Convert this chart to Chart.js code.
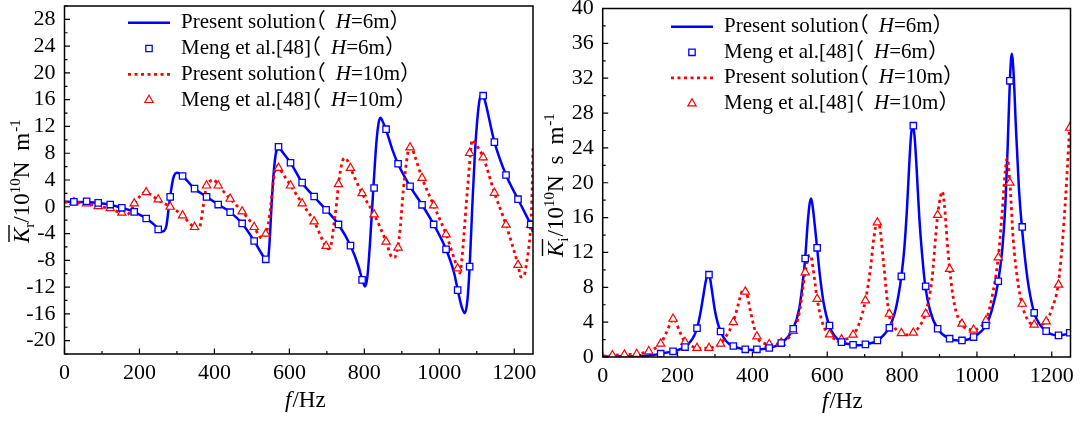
<!DOCTYPE html>
<html><head><meta charset="utf-8">
<script src="https://cdn.jsdelivr.net/npm/chart.js@4.4.1/dist/chart.umd.min.js"></script>
<style>
html,body{margin:0;padding:0;background:#fff;}
#wrap{position:relative;width:1080px;height:421px;overflow:hidden;}
.box{position:absolute;top:0;width:540px;height:421px;}
canvas{display:block;}
</style></head><body>
<div id="wrap">
<div class="box" style="left:0"><canvas id="cL" width="540" height="421"></canvas></div>
<div class="box" style="left:540px"><canvas id="cR" width="540" height="421"></canvas></div>
</div>
<script>
// ---------- tick labels ----------
const freqTicks = [0,200,400,600,800,1000,1200];
const krTicks = [-20,-16,-12,-8,-4,0,4,8,12,16,20,24,28];
const kiTicks = [0,4,8,12,16,20,24,28,32,36,40];

// ---------- left panel: real part Kr ----------
const krLine6F = [0,30,60,90,120,150,185,218,240,252,260,266,272,278,284,290,296,302,315,347,379,410,442,474,506,528,540,544,548,553,558,564,571,580,603,634,666,698,731,763,785,795,802,808,815,824,832,838,843,850,858,875,890,922,954,985,1018,1040,1049,1060,1068,1075,1081,1088,1095,1103,1110,1115,1120,1147,1178,1210,1230,1244,1250];
const krLine6V = [0.75,0.72,0.68,0.58,0.35,-0.1,-0.75,-1.75,-2.7,-3.4,-3.7,-3.6,-2.8,-0.2,2.3,4.2,5.0,5.1,4.6,2.7,1.5,0.35,-0.8,-2.5,-5.1,-7.2,-8.0,-7.5,-4.5,0.8,5.0,8.0,9.0,8.3,6.6,3.6,1.5,-0.45,-2.65,-5.8,-9.0,-11.0,-11.9,-10.5,-5.5,2.7,9.5,12.5,13.3,12.6,11.5,8.5,6.4,3.06,0.3,-2.64,-6.36,-10.0,-12.4,-15.0,-15.9,-14.0,-8.9,0.0,8.0,14.0,16.6,16.8,16.2,9.7,4.75,1.13,-1.1,-2.7,-3.8];

const krLine10F = [0,30,60,90,120,150,165,175,186,200,215,225,250,282,315,340,355,362,370,378,390,398,410,442,474,506,520,527,533,538,544,550,556,562,568,575,590,603,634,666,697,705,712,718,726,731,740,748,756,763,794,826,858,873,880,889,896,904,912,920,926,935,954,985,1018,1049,1055,1060,1066,1072,1078,1083,1088,1094,1117,1147,1178,1210,1218,1226,1234,1240,1244,1248,1250];
const krLine10V = [0.7,0.65,0.5,0.1,-0.3,-0.9,-1.2,-0.8,0.4,1.5,2.2,2.0,1.0,0.0,-1.3,-2.8,-3.3,-2.8,0.0,2.8,3.9,4.05,3.2,1.2,-0.7,-3.0,-4.4,-4.7,-4.4,-3.9,-2.5,0.0,3.2,5.5,6.1,5.6,4.3,3.2,0.5,-2.2,-5.9,-6.3,-5.5,-3.0,0.5,3.3,6.5,7.3,6.8,5.8,2.0,-1.15,-5.2,-7.5,-7.6,-6.1,-3.0,2.5,6.5,8.8,8.8,7.5,4.3,0.2,-4.1,-9.2,-9.9,-8.0,-4.0,0.5,4.5,8.0,10.0,9.6,7.4,2.1,-2.7,-8.7,-10.5,-10.3,-8.0,-5.5,-2.7,3.0,9.0];

const krMarkF = [25,59,90,122,153,186,218,250,282,315,347,379,410,442,474,506,537,571,603,634,666,698,731,763,794,826,858,890,922,954,985,1018,1049,1081,1117,1147,1178,1210,1244];
const krMeng6V = [0.73,0.83,0.58,0.33,-0.16,-0.76,-1.75,-3.38,1.48,4.6,2.71,1.48,0.33,-0.81,-2.49,-5.12,-7.85,8.96,6.58,3.61,1.53,-0.46,-2.64,-5.81,-10.92,2.81,11.59,6.43,3.06,0.29,-2.64,-6.36,-12.46,-8.94,16.6,9.66,4.75,1.13,-2.64];
const krMeng10V = [0.68,0.48,0.09,-0.21,-0.9,0.48,2.17,1.08,-0.01,-1.3,-3.04,3.16,3.16,1.18,-0.71,-3.04,-4.03,5.79,3.16,0.48,-2.19,-5.86,3.36,5.79,2.02,-1.15,-5.22,-6.11,8.86,4.3,0.19,-4.13,-9.23,8.02,7.38,2.07,-2.69,-8.69,-2.74];

// ---------- right panel: imaginary part Ki ----------
const kiLine6F = [0,50,100,130,155,188,220,235,245,252,260,268,275,281,286,292,300,308,315,330,348,381,400,412,445,477,509,525,533,541,548,553,557,561,567,573,580,590,605,620,638,669,685,702,734,765,780,790,798,806,813,819,824,828,833,839,846,853,862,875,895,927,950,960,991,1024,1040,1057,1068,1076,1082,1088,1093,1098,1104,1112,1120,1135,1153,1170,1185,1200,1217,1232,1250];
const kiLine6V = [0.05,0.08,0.12,0.2,0.38,0.65,1.14,1.8,2.5,3.3,4.8,6.8,8.6,9.5,9.2,7.6,5.3,3.8,2.93,1.8,1.26,0.88,0.8,0.85,1.03,1.6,3.24,5.5,8.0,11.3,15.5,17.6,18.2,17.3,15.0,12.5,9.5,6.3,3.62,2.4,1.71,1.41,1.35,1.45,1.9,3.35,5.0,7.0,9.26,12.5,17.0,22.0,25.5,26.5,25.5,21.5,16.0,12.0,8.1,5.3,3.24,2.1,1.9,1.9,2.29,3.62,5.4,8.7,12.5,17.5,24.0,31.7,34.8,32.5,26.5,19.5,15.0,9.0,5.07,3.6,2.97,2.6,2.48,2.55,2.75];

const kiLine10F = [0,26,58,91,123,140,155,170,180,188,195,205,220,240,260,284,300,315,330,349,362,372,378,385,395,412,430,445,477,509,525,541,550,555,562,573,588,605,620,638,669,685,702,715,725,733,740,750,765,780,798,815,830,846,862,880,890,895,903,907,913,920,927,940,959,975,991,1010,1024,1040,1057,1068,1076,1081,1088,1097,1108,1120,1135,1153,1168,1185,1200,1217,1230,1240,1248,1250];
const kiLine10V = [0.1,0.19,0.27,0.34,0.65,1.0,1.52,2.8,3.8,4.4,4.1,3.0,1.71,1.2,1.0,1.03,1.2,1.52,2.4,4.0,6.0,7.5,7.8,7.3,5.2,2.36,1.6,1.45,1.64,2.97,5.0,9.7,11.5,11.7,10.2,6.67,3.8,2.59,2.1,2.02,2.55,3.8,6.48,10.0,13.8,15.5,15.0,11.0,4.95,3.4,2.74,2.55,2.78,3.5,4.95,9.0,14.0,16.3,18.5,19.0,17.5,13.5,10.1,6.0,3.81,3.2,3.12,3.5,4.19,6.8,11.43,17.0,21.5,22.8,20.0,13.5,9.0,6.1,4.3,3.7,3.7,4.08,5.5,8.3,14.0,20.5,26.3,27.0];

const kiMeng6F = [155,188,220,252,284,315,349,381,412,445,477,509,541,573,606,638,669,702,734,766,798,830,863,895,927,960,991,1024,1057,1088,1121,1153,1185,1218,1248];
const kiMeng6V = [0.38,0.65,1.14,3.31,9.45,2.93,1.26,0.88,0.88,1.03,1.6,3.24,11.31,12.53,3.62,1.71,1.41,1.45,1.9,3.35,9.26,26.55,8.11,3.24,2.1,1.9,2.29,3.62,8.69,31.7,14.93,5.07,2.97,2.48,2.78];
const kiMeng10F = [26,58,91,123,155,188,220,252,284,315,349,381,412,445,477,509,541,573,606,638,669,702,734,766,798,830,863,895,927,960,991,1024,1057,1088,1121,1153,1185,1218,1248];
const kiMeng10V = [0.19,0.27,0.34,0.65,1.52,4.38,1.71,1.03,1.03,1.52,4.0,7.5,2.36,1.45,1.64,2.97,9.71,6.67,2.59,2.02,2.55,6.48,15.43,4.95,2.74,2.78,4.95,16.3,10.1,3.81,3.12,4.19,11.43,20.0,6.1,3.7,4.08,8.3,26.3];

// ---------- legend labels ----------
const legendNames = [
  [{t:'Present solution', gap:-11},{t:'（', gap:10},{t:'H',it:1},{t:'=6m）'}],
  [{t:'Meng et al.[48]', gap:-11},{t:'（', gap:10},{t:'H',it:1},{t:'=6m）'}],
  [{t:'Present solution', gap:-11},{t:'（', gap:10},{t:'H',it:1},{t:'=10m）'}],
  [{t:'Meng et al.[48]', gap:-11},{t:'（', gap:10},{t:'H',it:1},{t:'=10m）'}]
];

const BLUE = '#0000ff', RED = '#ff0000';
const FONT = "'Liberation Serif', 'Times New Roman', 'Noto Sans CJK SC', serif";
const pts = (F, V) => F.map((f, i) => ({x: f, y: V[i]}));

function drawMarker(ctx, kind, x, y) {
  ctx.save();
  if (kind === 'rect') {
    const h = 4.5 * Math.SQRT1_2;
    ctx.fillStyle = '#fff'; ctx.strokeStyle = BLUE; ctx.lineWidth = 1.3;
    ctx.beginPath(); ctx.rect(x - h, y - h, 2*h, 2*h); ctx.fill(); ctx.stroke();
  } else {
    const r = 4.8;
    ctx.fillStyle = '#fff'; ctx.strokeStyle = RED; ctx.lineWidth = 1.2;
    ctx.beginPath();
    for (let k = 0; k < 3; k++) {
      const a = k * 2 * Math.PI / 3;
      const px = x + Math.sin(a) * r, py = y - Math.cos(a) * r;
      k ? ctx.lineTo(px, py) : ctx.moveTo(px, py);
    }
    ctx.closePath(); ctx.fill(); ctx.stroke();
  }
  ctx.restore();
}

function drawRich(ctx, parts, x, y) {
  let cx = x;
  for (const p of parts) {
    ctx.font = (p.it ? 'italic ' : '') + (p.size || 21) + 'px ' + FONT;
    ctx.fillText(p.t, cx, y + (p.dy || 0));
    cx += ctx.measureText(p.t).width + (p.gap || 0);
  }
  return cx;
}

function makePlugin(cfg) {
  return {
    id: 'decor',
    afterDraw(chart) {
      const ctx = chart.ctx, a = chart.chartArea;
      const xs = chart.scales.x, ys = chart.scales.y;
      ctx.save();
      // frame
      ctx.strokeStyle = '#000'; ctx.lineWidth = 1.5;
      ctx.strokeRect(a.left, a.top, a.right - a.left, a.bottom - a.top);
      // inward ticks
      ctx.lineWidth = 1.2;
      ctx.beginPath();
      for (let v = 0; v <= 1250; v += 100) {
        const px = xs.getPixelForValue(v);
        const len = v % 200 === 0 ? 5.5 : 3;
        ctx.moveTo(px, a.bottom); ctx.lineTo(px, a.bottom - len);
      }
      for (let v = cfg.yMin; v <= cfg.yMax; v += 2) {
        const py = ys.getPixelForValue(v);
        const len = v % 4 === 0 ? 5.5 : 3;
        ctx.moveTo(a.left, py); ctx.lineTo(a.left + len, py);
      }
      ctx.stroke();
      // legend
      ctx.fillStyle = '#000';
      ctx.textBaseline = 'middle';
      legendNames.forEach((parts, i) => {
        const y = cfg.legY0 + i * cfg.legDy;
        if (i === 0 || i === 2) {
          ctx.save();
          ctx.strokeStyle = i === 0 ? BLUE : RED;
          ctx.lineWidth = i === 0 ? 2.5 : 2.8;
          if (i === 2) ctx.setLineDash([3, 3.5]);
          ctx.beginPath(); ctx.moveTo(cfg.legL1, y); ctx.lineTo(cfg.legL2, y); ctx.stroke();
          ctx.restore();
        } else {
          drawMarker(ctx, i === 1 ? 'rect' : 'tri', (cfg.legL1 + cfg.legL2) / 2, y);
        }
        ctx.fillStyle = '#000';
        drawRich(ctx, parts, cfg.legText, y);
      });
      // x title
      ctx.textBaseline = 'alphabetic';
      drawRich(ctx, [{t:'f', it:1, size:23, gap:1}, {t:'/Hz', size:23}], cfg.xtX, cfg.xtY);
      // y title (rotated)
      ctx.save();
      ctx.translate(cfg.ytX, cfg.ytY);
      ctx.rotate(-Math.PI / 2);
      drawRich(ctx, cfg.ytParts, 0, 0);
      ctx.strokeStyle = '#000'; ctx.lineWidth = 1.4;
      ctx.beginPath(); ctx.moveTo(1, -20); ctx.lineTo(18, -20); ctx.stroke();
      ctx.restore();
      ctx.restore();
    }
  };
}

function makeChart(id, d, cfg) {
  return new Chart(document.getElementById(id), {
    type: 'line',
    data: { datasets: [
      { data: pts(d.m6F, d.m6V), showLine: false, pointStyle: 'rect', pointRadius: 4.5,
        pointBorderColor: BLUE, pointBackgroundColor: '#fff', pointBorderWidth: 1.3, borderColor: BLUE },
      { data: pts(d.m10F, d.m10V), showLine: false, pointStyle: 'triangle', pointRadius: 4.8,
        pointBorderColor: RED, pointBackgroundColor: '#fff', pointBorderWidth: 1.2, borderColor: RED },
      { data: pts(d.l10F, d.l10V), borderColor: RED, borderWidth: 2.8, borderDash: [3, 3.5],
        pointRadius: 0, cubicInterpolationMode: 'monotone', fill: false },
      { data: pts(d.l6F, d.l6V), borderColor: BLUE, borderWidth: 2.5,
        pointRadius: 0, cubicInterpolationMode: 'monotone', fill: false }
    ]},
    options: {
      responsive: false, animation: false, devicePixelRatio: 1,
      layout: { padding: cfg.pad },
      plugins: { legend: { display: false }, tooltip: { enabled: false } },
      scales: {
        x: {
          type: 'linear', min: 0, max: 1250,
          grid: { display: false, drawTicks: false }, border: { display: false },
          afterBuildTicks: s => { s.ticks = freqTicks.map(v => ({value: v})); },
          afterFit: s => { s.height = cfg.xH; s.paddingLeft = 0; s.paddingRight = 0; },
          ticks: { font: { family: FONT, size: 22 }, color: '#000', padding: 6,
                   maxRotation: 0, autoSkip: false, callback: v => String(v) }
        },
        y: {
          type: 'linear', min: cfg.yMin, max: cfg.yMax,
          grid: { display: false, drawTicks: false }, border: { display: false },
          afterBuildTicks: s => { s.ticks = cfg.yTicks.map(v => ({value: v})); },
          afterFit: s => { s.width = cfg.yW; s.paddingTop = 0; s.paddingBottom = 0; },
          ticks: { font: { family: FONT, size: 22 }, color: '#000', padding: 9,
                   autoSkip: false, callback: v => String(v) }
        }
      }
    },
    plugins: [makePlugin(cfg)]
  });
}

makeChart('cL',
  { l6F: krLine6F, l6V: krLine6V, l10F: krLine10F, l10V: krLine10V,
    m6F: krMarkF, m6V: krMeng6V, m10F: krMarkF, m10V: krMeng10V },
  { pad: {left: 0, right: 7, top: 5, bottom: 0}, xH: 67, yW: 64.5,
    yMin: -22, yMax: 30, yTicks: krTicks,
    legY0: 22.7, legDy: 25.8, legL1: 128, legL2: 170, legText: 181,
    xtX: 285, xtY: 407, ytX: 29, ytY: 243,
    ytParts: [{t:'K', it:1, size:23}, {t:'r', size:15, dy:5}, {t:'/10', size:23}, {t:'10', size:15, dy:-9},
              {t:'N', size:23, gap:11}, {t:'m', size:23, gap:1}, {t:'-1', size:15, dy:-9}] });

makeChart('cR',
  { l6F: kiLine6F, l6V: kiLine6V, l10F: kiLine10F, l10V: kiLine10V,
    m6F: kiMeng6F, m6V: kiMeng6V, m10F: kiMeng10F, m10V: kiMeng10V },
  { pad: {left: 0, right: 9.5, top: 8.5, bottom: 0}, xH: 64, yW: 62.7,
    yMin: 0, yMax: 40, yTicks: kiTicks,
    legY0: 26.7, legDy: 25.6, legL1: 131, legL2: 173, legText: 184,
    xtX: 282, xtY: 408, ytX: 22.5, ytY: 257,
    ytParts: [{t:'K', it:1, size:23}, {t:'i', size:15, dy:5, gap:1}, {t:'/10', size:23}, {t:'10', size:15, dy:-9},
              {t:'N', size:23, gap:11}, {t:'s', size:23, gap:11}, {t:'m', size:23, gap:1}, {t:'-1', size:15, dy:-9}] });
</script>
</body></html>
